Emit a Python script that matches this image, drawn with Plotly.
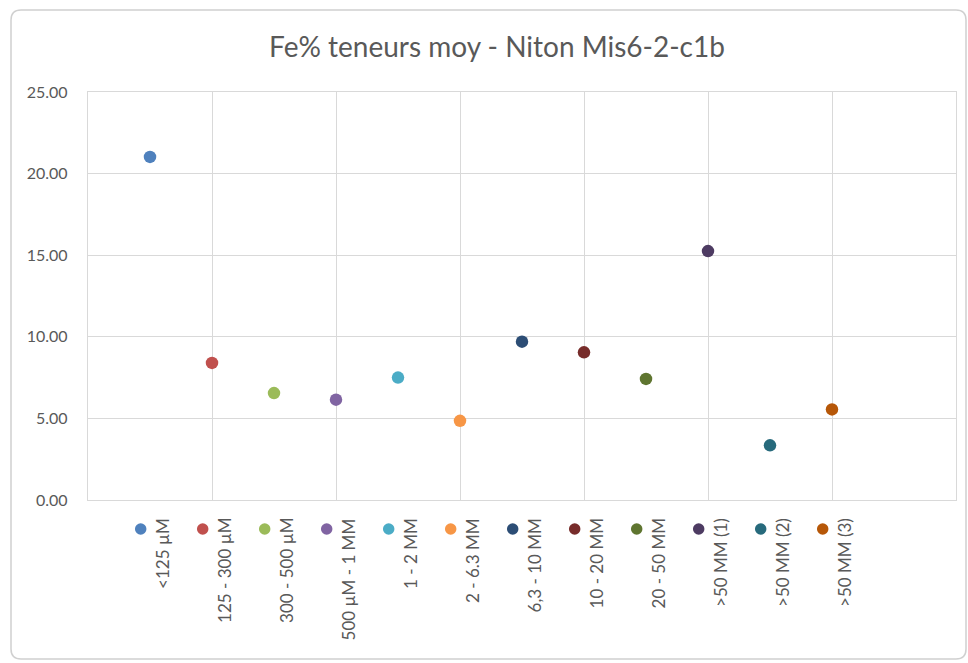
import plotly.graph_objects as go

categories = ["<125 µM", "125 - 300 µM", "300 - 500 µM", "500 µM - 1 MM", "1 - 2 MM",
              "2 - 6.3 MM", "6,3 - 10 MM", "10 - 20 MM", "20 - 50 MM",
              ">50 MM (1)", ">50 MM (2)", ">50 MM (3)"]
x_pos = [1, 2, 3, 4, 5, 6, 7, 8, 9, 10, 11, 12]
fe_values = [21.02, 8.40, 6.55, 6.15, 7.50, 4.85, 9.70, 9.05, 7.42, 15.25, 3.35, 5.55]
colors = ["#4F81BD", "#C0504D", "#9BBB59", "#8064A2", "#4BACC6", "#F79646",
          "#2C4D75", "#772C2A", "#5F7530", "#4D3B62", "#276A7C", "#B65708"]
y_ticks = [0, 5, 10, 15, 20, 25]

W, H = 968, 663
PLOT_L, PLOT_R, PLOT_T, PLOT_B = 88, 956, 92, 500
BOTTOM = 660
ML = PLOT_L
MR = W - PLOT_R
MT = PLOT_T
MB = H - BOTTOM
PW, PH = W - ML - MR, H - MT - MB

def px(x):
    return (x - ML) / PW
def py(y):
    return (BOTTOM - y) / PH

LEG_H = BOTTOM - PLOT_B
dom_split = LEG_H / PH

FONT = "Lato, 'Open Sans', sans-serif"
GRAY = "#595959"
GRID = "#D9D9D9"

fig = go.Figure()
for c, xv, v, col in zip(categories, x_pos, fe_values, colors):
    fig.add_trace(go.Scatter(
        x=[xv], y=[v], mode="markers", name=c,
        marker=dict(color=col, size=12.5, line=dict(width=0)),
        xaxis="x", yaxis="y", hoverinfo="skip", showlegend=False))

# legend strip (markers + rotated labels)
leg_marker_y = BOTTOM - 529
leg_text_y = BOTTOM - 516
fig.add_trace(go.Scatter(
    x=[xv - 0.15 for xv in x_pos], y=[leg_marker_y] * len(x_pos), mode="markers",
    marker=dict(color=colors, size=11.5, line=dict(width=0)),
    xaxis="x2", yaxis="y2", hoverinfo="skip", showlegend=False, cliponaxis=False))
for c, xv in zip(categories, x_pos):
    fig.add_annotation(x=xv + 0.2, y=leg_text_y, xref="x2", yref="y2",
                       text=c, textangle=-90, showarrow=False,
                       xanchor="center", yanchor="top",
                       font=dict(family=FONT, size=17, color=GRAY))

# chart border (rounded rectangle)
x0, x1, y0, y1, r = 11, 966, 10, 659, 10
path = (f"M {px(x0 + r)},{py(y0)} L {px(x1 - r)},{py(y0)} "
        f"Q {px(x1)},{py(y0)} {px(x1)},{py(y0 + r)} "
        f"L {px(x1)},{py(y1 - r)} Q {px(x1)},{py(y1)} {px(x1 - r)},{py(y1)} "
        f"L {px(x0 + r)},{py(y1)} Q {px(x0)},{py(y1)} {px(x0)},{py(y1 - r)} "
        f"L {px(x0)},{py(y0 + r)} Q {px(x0)},{py(y0)} {px(x0 + r)},{py(y0)} Z")
fig.add_shape(type="path", path=path, xref="paper", yref="paper",
              line=dict(color="#D0D0D0", width=1.5), layer="below")

fig.update_layout(
    width=W, height=H,
    margin=dict(l=ML, r=MR, t=MT, b=MB, pad=0, autoexpand=False),
    paper_bgcolor="white", plot_bgcolor="white",
    title=dict(text="Fe% teneurs moy - Niton Mis6-2-c1b",
               x=497 / W, xref="container", xanchor="center",
               y=1 - 47 / H, yref="container", yanchor="middle",
               font=dict(family=FONT, size=28, color=GRAY)),
    xaxis=dict(range=[0, 14], dtick=2, tick0=0, showgrid=True, gridcolor=GRID,
               gridwidth=1.3, showline=True, linecolor=GRID, linewidth=1.3, mirror=True,
               showticklabels=False, ticks="", zeroline=False, anchor="y",
               automargin=False),
    xaxis2=dict(matches="x", range=[0, 14], visible=False, showgrid=False,
                zeroline=False, anchor="y2", automargin=False),
    yaxis=dict(range=[0, 25], tickvals=y_ticks, tickformat=".2f",
               domain=[dom_split, 1], showgrid=True, gridcolor=GRID, gridwidth=1.3,
               showline=True, linecolor=GRID, linewidth=1.3, mirror=True,
               zeroline=False, ticks="", ticklabelstandoff=16, automargin=False,
               tickfont=dict(family=FONT, size=16, color=GRAY), anchor="x"),
    yaxis2=dict(range=[0, LEG_H], domain=[0, dom_split], visible=False,
                showgrid=False, zeroline=False, anchor="x2", automargin=False),
)

fig.write_html("out.html", config={"displayModeBar": False},
               post_script="document.body.style.margin='0';document.body.style.overflow='hidden';")
